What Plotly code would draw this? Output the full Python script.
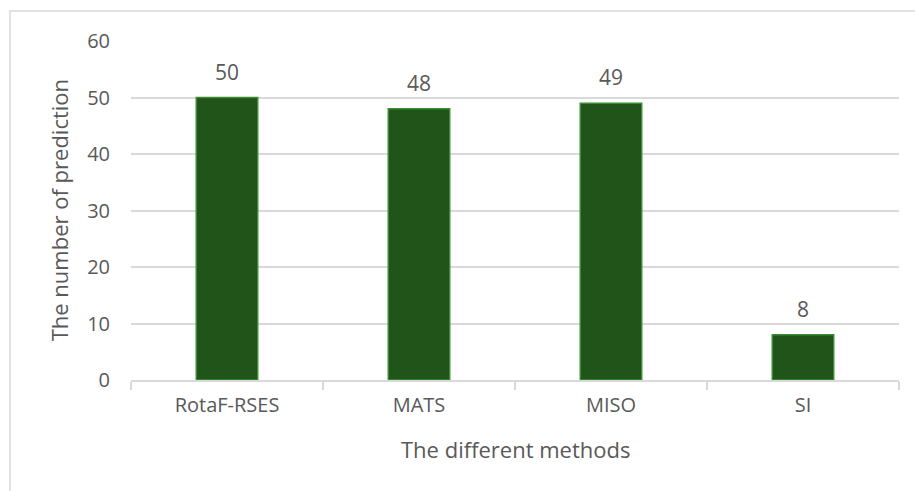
import plotly.graph_objects as go

# Number of predictions per method
methods = ["RotaF-RSES", "MATS", "MISO", "SI"]
predictions = [50, 48, 49, 8]

y_ticks = [0, 10, 20, 30, 40, 50, 60]

FONT = "Open Sans"
TEXT = "#595959"
GRID = "#d9d9d9"

fig = go.Figure()
fig.add_trace(go.Bar(
    x=methods,
    y=predictions,
    marker=dict(color="#215419", line=dict(color="#3c8c34", width=1.5)),
    hoverinfo="x+y",
))

# value labels above each bar
annotations = [
    dict(x=m, y=v, xref="x", yref="y", text=str(v), showarrow=False,
         yanchor="middle", yshift=26, font=dict(family=FONT, size=21, color=TEXT))
    for m, v in zip(methods, predictions)
]
annotations.append(dict(
    x=0.5, y=-0.2035, xref="paper", yref="paper", text="The different methods",
    showarrow=False, xanchor="center", yanchor="middle",
    font=dict(family=FONT, size=22, color=TEXT)))
annotations.append(dict(
    x=-0.094, y=0.5, xref="paper", yref="paper", text="The number of prediction",
    showarrow=False, xanchor="center", yanchor="middle", textangle=-90,
    font=dict(family=FONT, size=22, color=TEXT)))

fig.update_layout(
    width=915, height=491,
    margin=dict(l=131, r=16, t=41, b=111, autoexpand=False),
    paper_bgcolor="white", plot_bgcolor="white",
    bargap=0.68,
    showlegend=False,
    font=dict(family=FONT, color=TEXT),
    annotations=annotations,
    shapes=[dict(type="rect", xref="paper", yref="paper",
                 x0=-0.1576, x1=1.06, y0=-0.45, y1=1.0885,
                 line=dict(color=GRID, width=1.5), layer="below")],
)
fig.update_xaxes(
    showline=True, linecolor=GRID, linewidth=1.5,
    ticks="outside", tickson="boundaries", ticklen=8, tickcolor=GRID, tickwidth=1.5,
    tickfont=dict(family=FONT, size=20, color=TEXT),
    ticklabelstandoff=6,
    showgrid=False, automargin=False,
)
fig.update_yaxes(
    range=[0, 60], tickvals=y_ticks,
    showgrid=True, gridcolor=GRID, gridwidth=1.5,
    zeroline=False, showline=False,
    tickfont=dict(family=FONT, size=20, color=TEXT),
    ticklabelstandoff=20,
    automargin=False,
)

fig.write_html("out.html")
